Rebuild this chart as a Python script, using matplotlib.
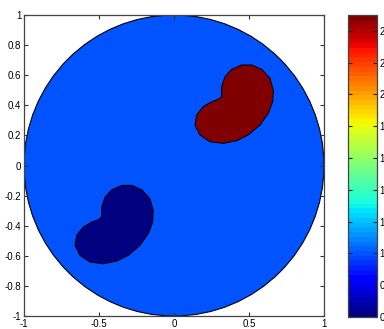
import numpy as np
import matplotlib
matplotlib.use('Agg')
from matplotlib import pyplot as plt
from matplotlib.patches import Circle, Polygon
from matplotlib.colors import Normalize
from matplotlib import colorbar

# conductivity values
background_value = 1.0
inclusion_values = [2.5, 0.6]          # red inclusion, blue inclusion
# inclusion positions (offset of the bean outline)
inclusion_dx = [0.0, -0.8]
inclusion_dy = [0.0, -0.8]

# bean outline (upper right inclusion)
bean_x = [0.318, 0.318, 0.340, 0.385, 0.451, 0.518, 0.585, 0.640, 0.662, 0.658,
          0.629, 0.573, 0.495, 0.418, 0.329, 0.240, 0.173, 0.140, 0.151, 0.195,
          0.251, 0.295]
bean_y = [0.457, 0.524, 0.590, 0.639, 0.668, 0.668, 0.639, 0.579, 0.502, 0.424,
          0.347, 0.269, 0.203, 0.165, 0.147, 0.158, 0.203, 0.269, 0.336, 0.391,
          0.424, 0.440]

x_ticks = [-1, -0.5, 0, 0.5, 1]
y_ticks = [-1, -0.8, -0.6, -0.4, -0.2, 0, 0.2, 0.4, 0.6, 0.8, 1]
cbar_ticks = [0.6, 0.8, 1.0, 1.2, 1.4, 1.6, 1.8, 2.0, 2.2, 2.4]

plt.rcParams['font.family'] = ['Liberation Sans', 'DejaVu Sans']

cmap = plt.get_cmap('jet', 64)
norm = Normalize(vmin=min(inclusion_values), vmax=max(inclusion_values))

W, H = 384, 329
fig = plt.figure(figsize=(W / 100, H / 100), dpi=100)
ax = fig.add_axes([24 / W, (H - 316) / H, 300 / W, 301 / H])

disk = Circle((0, 0), 1.0, facecolor=cmap(norm(background_value)),
              edgecolor='black', linewidth=0.8)
ax.add_patch(disk)
for val, dx, dy in zip(inclusion_values, inclusion_dx, inclusion_dy):
    pts = np.column_stack([np.array(bean_x) + dx, np.array(bean_y) + dy])
    ax.add_patch(Polygon(pts, closed=True, facecolor=cmap(norm(val)),
                         edgecolor='black', linewidth=0.7))

ax.set_xlim(-1, 1)
ax.set_ylim(-1, 1)
ax.set_xticks(x_ticks)
ax.set_xticklabels([f'{t:g}' for t in x_ticks])
ax.set_yticks(y_ticks)
ax.set_yticklabels([f'{t:g}' for t in y_ticks])
ax.tick_params(direction='in', length=3, labelsize=7, top=True, right=True,
               pad=2, color='#333333')
for sp in ax.spines.values():
    sp.set_color('#444444')
    sp.set_linewidth(0.9)

cax = fig.add_axes([348 / W, (H - 317) / H, 29 / W, 302 / H])
cb = colorbar.ColorbarBase(cax, cmap=cmap, norm=norm, ticks=cbar_ticks)
cb.ax.set_yticklabels([f'{t:g}' for t in cbar_ticks])
cb.outline.set_edgecolor('#444444')
cb.outline.set_linewidth(0.9)
cax.tick_params(direction='in', length=3, labelsize=7, left=True, right=True,
                labelleft=False, labelright=True, pad=2, color='#222222')

fig.savefig('out.png', dpi=100)
